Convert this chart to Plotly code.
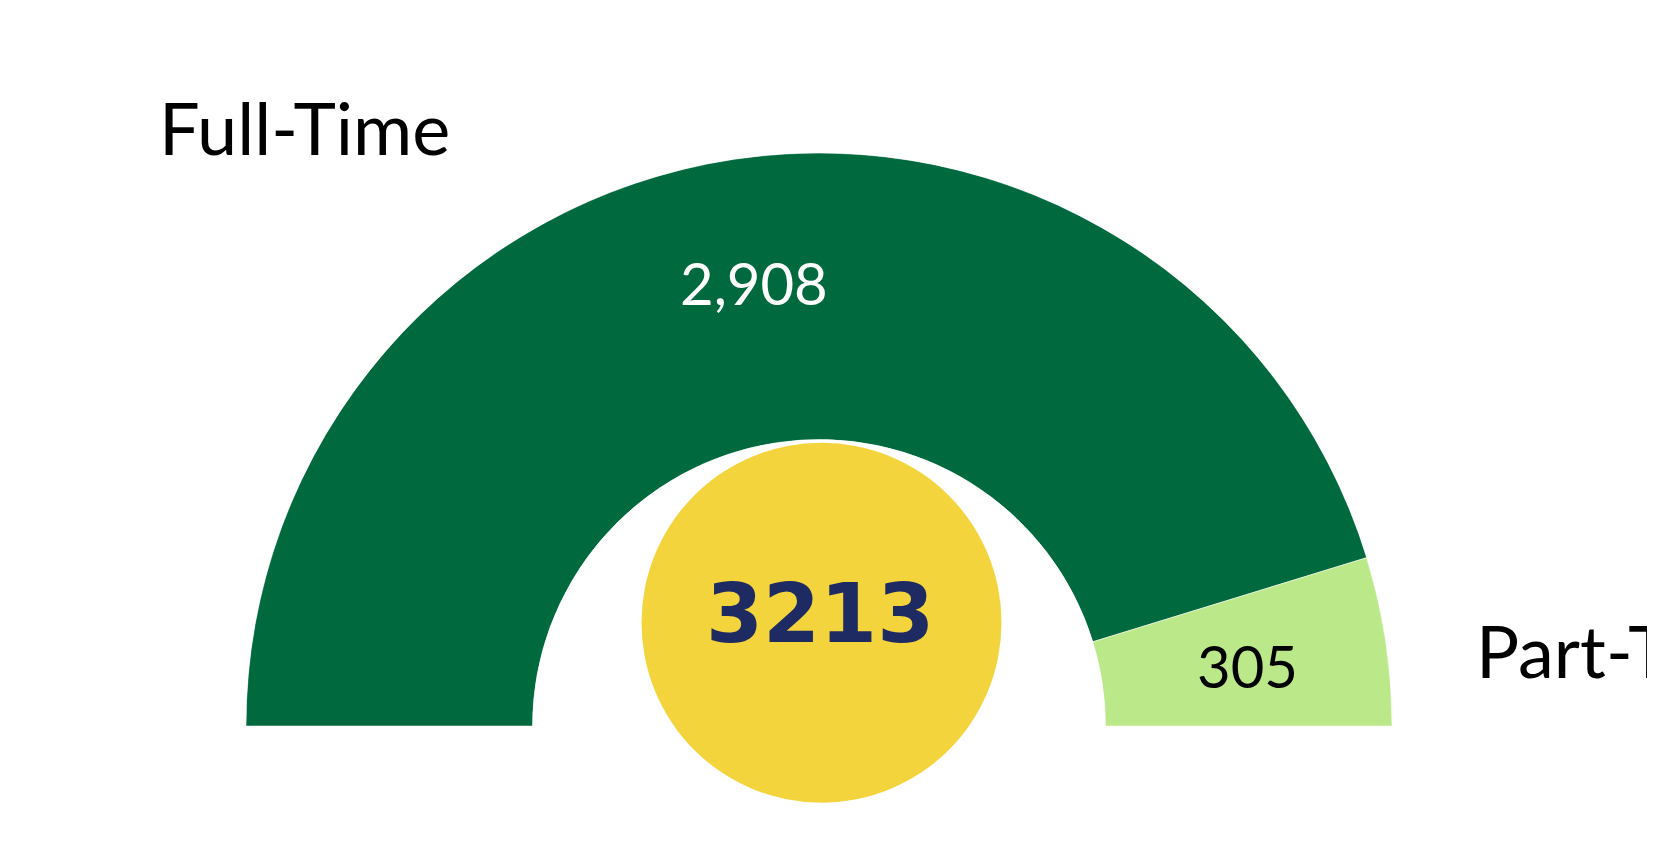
import plotly.graph_objects as go

# ---- data ----
categories = ["Full-Time", "Part-Time"]
values = [2908, 305]
value_labels = ["2,908", "305"]
total_label = "3213"

# ---- styles ----
slice_colors = ["#006A3E", "#BBE98A"]
text_colors = ["#FFFFFF", "#000000"]
W, H = 1655, 816


def px(x):
    return x / W


def py(y):
    return (H - y) / H


total = sum(values)
spans = [180.0 * v / total for v in values]
starts = [sum(spans[:i]) for i in range(len(spans))]
mids = [s + w / 2 for s, w in zip(starts, spans)]

fig = go.Figure()
fig.add_trace(go.Barpolar(
    r=[1] * len(values), theta=mids, width=spans, base=0,
    marker=dict(color=slice_colors, line=dict(color="white", width=0.5)),
    hoverinfo="text", hovertext=[f"{c}: {v}" for c, v in zip(categories, values)],
    showlegend=False,
))

value_pos = [(745.7, 274), (1239, 657)]   # label anchor positions (px)
label_pos = [(149, 119), (1466, 642)]

annotations = []
for txt, col, (x, y) in zip(value_labels, text_colors, value_pos):
    annotations.append(dict(text=txt, xref="paper", yref="paper", x=px(x), y=py(y),
                            xanchor="center", yanchor="middle", showarrow=False,
                            font=dict(family="Lato", size=58, color=col)))
for txt, (x, y) in zip(categories, label_pos):
    annotations.append(dict(text=txt, xref="paper", yref="paper", x=px(x), y=py(y),
                            xanchor="left", yanchor="middle", showarrow=False,
                            font=dict(family="Lato", size=72, color="black")))
annotations.append(dict(text=f"<b>{total_label}</b>", xref="paper", yref="paper",
                        x=px(812), y=py(605), xanchor="center", yanchor="middle",
                        showarrow=False,
                        font=dict(family="DejaVu Sans", size=82, color="#1E2B62")))

fig.update_layout(
    width=W, height=H,
    margin=dict(l=0, r=0, t=0, b=0),
    paper_bgcolor="white", plot_bgcolor="white",
    polar=dict(
        domain=dict(x=[px(238), px(1384)], y=[py(718), py(145)]),
        sector=[0, 180], hole=0.5, bgcolor="white",
        radialaxis=dict(range=[0, 1], visible=False, showgrid=False),
        angularaxis=dict(direction="clockwise", rotation=180, visible=False,
                         showgrid=False, thetaunit="degrees"),
    ),
    shapes=[dict(type="circle", xref="paper", yref="paper",
                 x0=px(633.5), x1=px(993.5), y0=py(794.7), y1=py(434.7),
                 fillcolor="#F4D43D", line=dict(width=0), layer="above")],
    annotations=annotations,
)

fig.write_html("out.html")
